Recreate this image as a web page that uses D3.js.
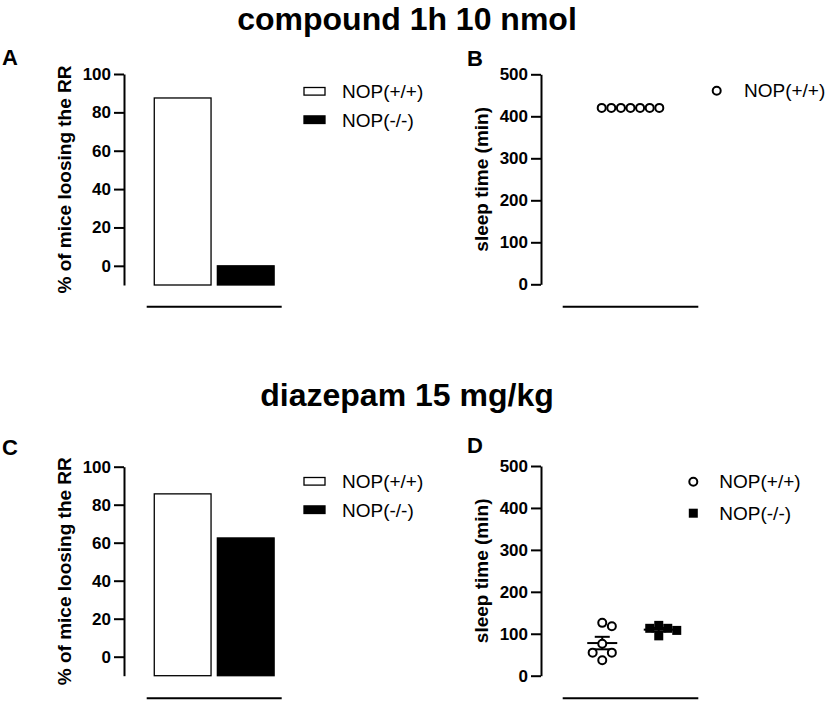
<!DOCTYPE html>
<html>
<head>
<meta charset="utf-8">
<script src="https://cdn.jsdelivr.net/npm/d3@7"></script>
<style>
  body { margin: 0; background: #fff; }
  svg { display: block; font-family: "Liberation Sans", Arial, sans-serif; }
</style>
</head>
<body>
<div id="chart"></div>
<script>
const groups = ["NOP(+/+)", "NOP(-/-)"]
const titles = ["compound 1h 10 nmol", "diazepam 15 mg/kg"]
const rrTicks = [0, 20, 40, 60, 80, 100]
const sleepTicks = [0, 100, 200, 300, 400, 500]

// % of mice losing the righting reflex
const compoundRR = [87.5, 0]
const diazepamRR = [85.7, 62.5]

// sleep time (min), individual animals
const compoundSleepWT = [420, 420, 420, 420, 420, 420, 420]
const diazepamSleepWT = [126, 118, 76, 55, 55, 37]
const diazepamSleepKO = [120, 113, 113, 108, 95]

const svg = d3.select("#chart").append("svg")
  .attr("width", 827)
  .attr("height", 702)

function yAxis(g, y, ticks, x) {
  const ax = g.append("g")
    .attr("transform", `translate(${x},0)`)
    .call(d3.axisLeft(y).tickValues(ticks).tickSize(10).tickSizeOuter(0).tickPadding(3))
  ax.select(".domain").attr("stroke-width", 2)
  ax.selectAll(".tick line").attr("stroke-width", 2)
  ax.selectAll(".tick text")
    .attr("font-size", 17)
    .attr("font-weight", "bold")
    .attr("fill", "#000")
    .attr("font-family", "Liberation Sans, Arial, sans-serif")
}

function yLabel(g, text, x, yMid) {
  g.append("text")
    .attr("transform", `translate(${x},${yMid}) rotate(-90)`)
    .attr("text-anchor", "middle")
    .attr("font-size", 19)
    .attr("font-weight", "bold")
    .text(text)
}

function baseLine(g, x0, x1, y) {
  g.append("line")
    .attr("x1", x0).attr("x2", x1)
    .attr("y1", y).attr("y2", y)
    .attr("stroke", "#000")
    .attr("stroke-width", 2)
}

function letter(g, t, x, y) {
  g.append("text").attr("x", x).attr("y", y)
    .attr("font-size", 22).attr("font-weight", "bold").text(t)
}

// ---- bar panels (A, C)
function barPanel(values, top, bottom, lineY, legendY) {
  const g = svg.append("g")
  const y = d3.scaleLinear().domain([-10, 100]).range([bottom, top])
  const x = d3.scaleBand().domain(groups).range([146.7, 281.7])
    .paddingInner(0.1).paddingOuter(0.12)

  g.selectAll(".bar")
    .data(values)
    .enter().append("rect")
    .attr("class", "bar")
    .attr("x", (d, i) => x(groups[i]))
    .attr("width", x.bandwidth())
    .attr("y", d => y(d))
    .attr("height", d => y(-10) - y(d))
    .attr("fill", (d, i) => i === 0 ? "#fff" : "#000")
    .attr("stroke", "#000")
    .attr("stroke-width", 1.3)

  yAxis(g, y, rrTicks, 124)
  yLabel(g, "% of mice loosing the RR", 71, (top + bottom) / 2)
  baseLine(g, x.range()[0], x.range()[1], lineY)

  // legend
  const leg = g.append("g").selectAll("g")
    .data(groups)
    .enter().append("g")
    .attr("transform", (d, i) => `translate(0,${legendY + i * 28.4})`)
  leg.append("rect")
    .attr("x", 304).attr("y", -10.8)
    .attr("width", 21).attr("height", 7.6)
    .attr("fill", (d, i) => i === 0 ? "#fff" : "#000")
    .attr("stroke", "#000")
    .attr("stroke-width", 1.3)
  leg.append("text")
    .attr("x", 342).attr("y", 0)
    .attr("font-size", 19)
    .text(d => d)
}

// simple beeswarm so overlapping animals spread sideways
function swarm(values, cx, y, gap) {
  const placed = []
  return values.map(v => {
    const py = y(v)
    for (let k = 0; k < 50; k++) {
      const off = k === 0 ? 0 : (k % 2 ? 1 : -1) * Math.ceil(k / 2) * gap
      const px = cx + off
      if (placed.every(p => Math.hypot(p[0] - px, p[1] - py) >= gap - 0.01)) {
        placed.push([px, py])
        return { v, x: px, y: py }
      }
    }
    return { v, x: cx, y: py }
  })
}

function meanSem(g, vals, cx, y) {
  const m = d3.mean(vals)
  const sem = vals.length > 1 ? d3.deviation(vals) / Math.sqrt(vals.length) : 0
  g.append("line").attr("x1", cx - 15).attr("x2", cx + 15)
    .attr("y1", y(m)).attr("y2", y(m))
    .attr("stroke", "#000").attr("stroke-width", 2)
  if (sem > 0) {
    g.append("line").attr("x1", cx).attr("x2", cx)
      .attr("y1", y(m - sem)).attr("y2", y(m + sem))
      .attr("stroke", "#000").attr("stroke-width", 2)
    ;[m - sem, m + sem].forEach(v => {
      g.append("line").attr("x1", cx - 7.5).attr("x2", cx + 7.5)
        .attr("y1", y(v)).attr("y2", y(v))
        .attr("stroke", "#000").attr("stroke-width", 2)
    })
  }
}

// ---- scatter panels (B, D)
function scatterPanel(series, top, bottom, lineY) {
  const g = svg.append("g")
  const y = d3.scaleLinear().domain([0, 500]).range([bottom, top])
  const names = groups.slice(0, series.length)
  const x = d3.scalePoint().domain(names).range([562.7, 698.3]).padding(0.7)

  yAxis(g, y, sleepTicks, 541)
  yLabel(g, "sleep time (min)", 488, (top + bottom) / 2)
  baseLine(g, 562.7, 698.3, lineY)

  series.forEach((vals, i) => {
    const cx = x(names[i])
    meanSem(g, vals, cx, y)
    if (i === 0) {
      g.selectAll(null)
        .data(swarm(vals, cx, y, 9.6))
        .enter().append("circle")
        .attr("cx", d => d.x).attr("cy", d => d.y).attr("r", 4)
        .attr("fill", "#fff").attr("stroke", "#000").attr("stroke-width", 2)
    } else {
      g.selectAll(null)
        .data(swarm(vals, cx, y, 9))
        .enter().append("rect")
        .attr("x", d => d.x - 4.5).attr("y", d => d.y - 4.5)
        .attr("width", 9).attr("height", 9)
        .attr("fill", "#000")
    }
  })
  return g
}

function scatterLegend(names, sx, tx, y0, dy) {
  const leg = svg.append("g").selectAll("g")
    .data(names)
    .enter().append("g")
    .attr("transform", (d, i) => `translate(0,${y0 + i * dy})`)
  leg.each(function(d, i) {
    const s = d3.select(this)
    if (i === 0) {
      s.append("circle").attr("cx", sx).attr("cy", -6.5).attr("r", 4)
        .attr("fill", "#fff").attr("stroke", "#000").attr("stroke-width", 2)
    } else {
      s.append("rect").attr("x", sx - 4.5).attr("y", -11).attr("width", 9).attr("height", 9)
        .attr("fill", "#000")
    }
  })
  leg.append("text").attr("x", tx).attr("y", 0).attr("font-size", 19).text(d => d)
}

// titles
svg.selectAll(".title")
  .data(titles)
  .enter().append("text")
  .attr("class", "title")
  .attr("x", 407)
  .attr("y", (d, i) => i === 0 ? 30 : 406)
  .attr("text-anchor", "middle")
  .attr("font-size", 32)
  .attr("font-weight", "bold")
  .text(d => d)

barPanel(compoundRR, 74, 285, 306.7, 98.3)
barPanel(diazepamRR, 466.7, 675.7, 698.3, 488.3)
scatterPanel([compoundSleepWT], 74.3, 284.3, 306.7)
scatterPanel([diazepamSleepWT, diazepamSleepKO], 466, 675.7, 698.3)
scatterLegend(groups.slice(0, 1), 716.7, 744, 97.2, 31.5)
scatterLegend(groups, 693.3, 719.3, 488.2, 31.5)

const lg = svg.append("g")
letter(lg, "A", 2, 65)
letter(lg, "B", 467, 66)
letter(lg, "C", 2, 455)
letter(lg, "D", 467, 453)
</script>
</body>
</html>
